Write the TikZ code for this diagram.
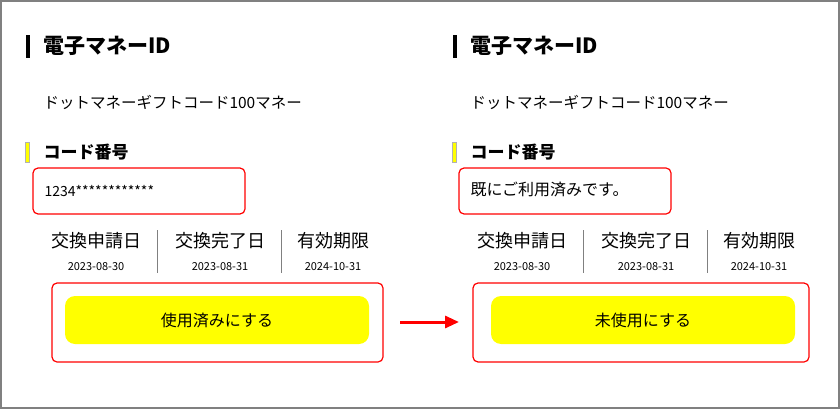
\documentclass[tikz,border=0pt]{standalone}
\usepackage{fontspec}
\newfontfamily\jp{Noto Sans CJK JP}
\usetikzlibrary{positioning,arrows.meta}
\definecolor{btnyellow}{RGB}{255,255,0}
\tikzset{
  codebox/.style={draw=red, line width=1.2pt, rounded corners=5pt},
  btn/.style={fill=btnyellow, rounded corners=10pt},
  title/.style={anchor=west, font=\jp\fontsize{21}{24}\selectfont\bfseries},
  label/.style={anchor=west, font=\jp\fontsize{17}{20}\selectfont\bfseries},
  sub/.style={anchor=west, font=\jp\fontsize{15.5}{18}\selectfont},
  head/.style={font=\jp\fontsize{18}{21}\selectfont},
  date/.style={font=\jp\fontsize{11}{13}\selectfont},
  btntext/.style={font=\jp\fontsize{16}{19}\selectfont},
}
\begin{document}
\begin{tikzpicture}[x=1pt,y=-1pt]
    \useasboundingbox (0,0) rectangle (840,409);
    % frame
    \draw[gray, line width=1.2pt] (1,1) rectangle (839,408);

    % left panel
    \fill[black] (26,35) rectangle (30,58);
    \node[title] (t1) at (40,46) {電子マネーID};
    \node[sub] (s1) at (40,102) {ドットマネーギフトコード100マネー};
    \fill[gray!60] (25,142) rectangle (30,163); \fill[btnyellow] (26,143) rectangle (29,162);
    \node[label] (c1) at (40,152) {コード番号};
    \draw[codebox] (33,168) rectangle (245,214);
    \node[sub, font=\jp\fontsize{14}{16}\selectfont] (n1) at (41,191) {1234************};
    \node[head] (h11) at (96,241) {交換申請日};
    \node[head] (h12) at (220,241) {交換完了日};
    \node[head] (h13) at (333,241) {有効期限};
    \node[date] (d11) at (96,267) {2023-08-30};
    \node[date] (d12) at (220,267) {2023-08-31};
    \node[date] (d13) at (333,267) {2024-10-31};
    \draw[gray] (157,230) -- (157,273); \draw[gray] (281,230) -- (281,273);
    \draw[codebox] (52,283) rectangle (383,362);
    \fill[btn] (65,296) rectangle (369,344);
    \node[btntext] (b1) at (217,320) {使用済みにする};

    % arrow
    \coordinate (a1) at (400,322); \coordinate (a2) at (459,322);
    \draw[red, line width=3pt, -{Triangle[length=14pt,width=12pt]}] (a1) -- (a2);

    % right panel
    \fill[black] (453,35) rectangle (457,58);
    \node[title] (t2) at (467,46) {電子マネーID};
    \node[sub] (s2) at (467,102) {ドットマネーギフトコード100マネー};
    \fill[gray!60] (452,142) rectangle (457,163); \fill[btnyellow] (453,143) rectangle (456,162);
    \node[label] (c2) at (467,152) {コード番号};
    \draw[codebox] (459,168) rectangle (671,214);
    \node[sub, font=\jp\fontsize{16}{19}\selectfont] (n2) at (467,189) {既にご利用済みです。};
    \node[head] (h21) at (522,241) {交換申請日};
    \node[head] (h22) at (646,241) {交換完了日};
    \node[head] (h23) at (759,241) {有効期限};
    \node[date] (d21) at (522,267) {2023-08-30};
    \node[date] (d22) at (646,267) {2023-08-31};
    \node[date] (d23) at (759,267) {2024-10-31};
    \draw[gray] (583,230) -- (583,273); \draw[gray] (707,230) -- (707,273);
    \draw[codebox] (473,283) rectangle (809,362);
    \fill[btn] (491,296) rectangle (795,344);
    \node[btntext] (b2) at (643,320) {未使用にする};
\end{tikzpicture}
\end{document}
